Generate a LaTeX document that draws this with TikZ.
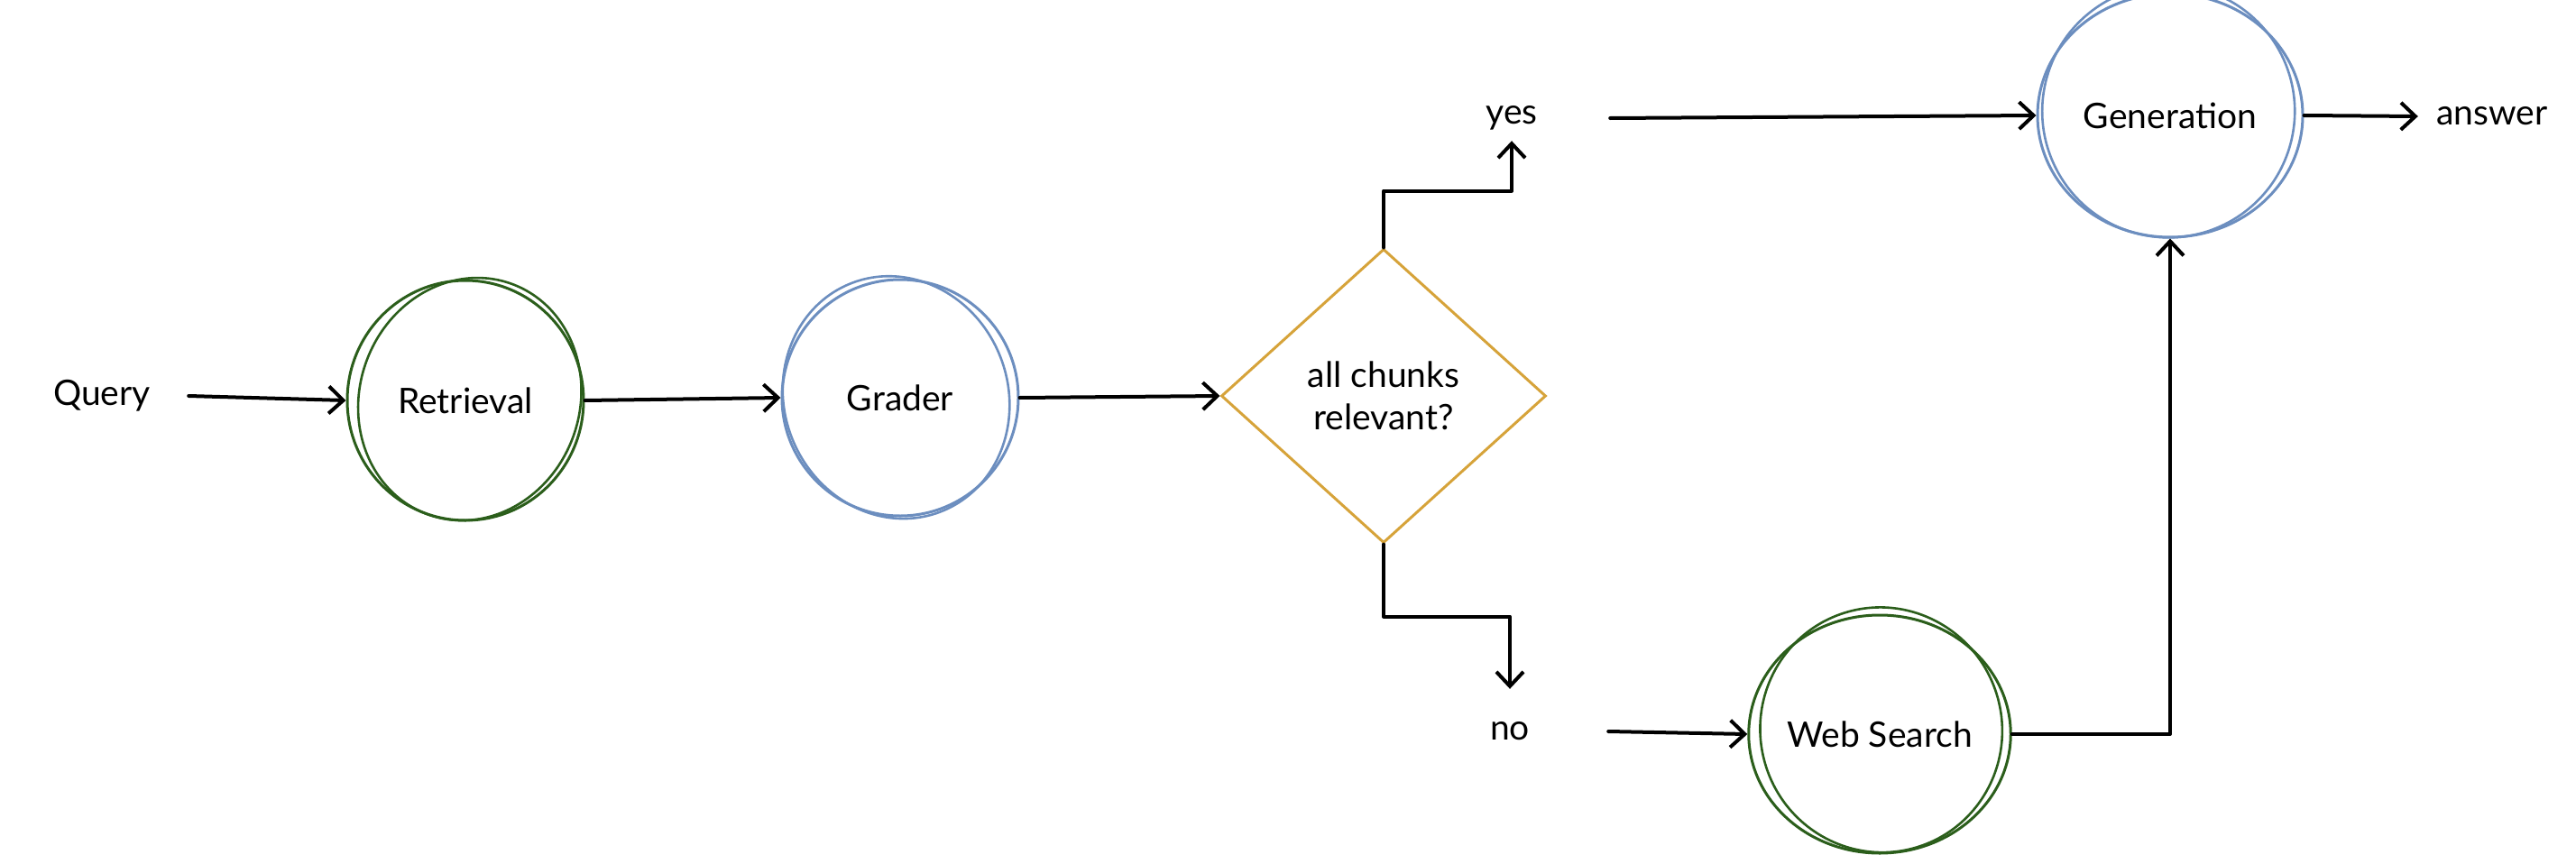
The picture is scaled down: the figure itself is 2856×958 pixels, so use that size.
\documentclass[tikz,border=0pt]{standalone}
\usepackage{fontspec}
\setmainfont{Lato}
\usetikzlibrary{shapes.geometric,arrows.meta}
\definecolor{sgreen}{HTML}{2B5E1B}
\definecolor{sblue}{HTML}{6C8EBF}
\definecolor{sgold}{HTML}{D6A33A}
\begin{document}
\begin{tikzpicture}[x=1pt,y=-1pt,
  font=\fontsize{39}{47}\selectfont,
  lbl/.style={inner sep=0pt, minimum height=50pt},
  proc/.style={ellipse, draw, line width=3pt, inner sep=0pt},
  extra/.style={line width=2.6pt},
  conn/.style={line width=4pt, -{Straight Barb[length=16pt,width=30pt]}, line cap=round, line join=round}]
\useasboundingbox (0,0) rectangle (2856,958);

\node[lbl, minimum width=192pt] (query) at (113,439) {Query};
\node[proc, draw=sgreen, minimum width=262pt, minimum height=266pt] (ret) at (516,444) {Retrieval};
\node[proc, draw=sblue, minimum width=262pt, minimum height=262pt] (grader) at (998,441) {Grader};
\node[diamond, draw=sgold, line width=3pt, minimum width=360pt, minimum height=326pt, inner sep=0pt, aspect=1.1, align=center] (dia) at (1534,439) {all chunks\\relevant?};
\node[lbl, minimum width=218pt] (yes) at (1676,131) {yes};
\node[proc, draw=sblue, minimum width=294pt, minimum height=270pt] (gen) at (2406,128) {Generation};
\node[lbl, minimum width=164pt] (ans) at (2763,129) {answer};
\node[lbl, minimum width=218pt] (no) at (1674,811) {no};
\node[proc, draw=sgreen, minimum width=282pt, minimum height=264pt] (ws) at (2084,814) {Web Search};

% sketchy second strokes
\draw[extra, sgreen, rotate around={-20:(ret.center)}] ([shift={(4,-3)}]ret.center) ellipse [x radius=122, y radius=136];
\draw[extra, sblue, rotate around={22:(grader.center)}] ([shift={(-4,-2)}]grader.center) ellipse [x radius=124, y radius=136];
\draw[extra, sblue, rotate around={-16:(gen.center)}] ([shift={(-3,-4)}]gen.center) ellipse [x radius=140, y radius=140];
\draw[extra, sgreen, rotate around={18:(ws.center)}] ([shift={(3,-4)}]ws.center) ellipse [x radius=134, y radius=136];

% connectors
\draw[conn] (query.east) -- (ret.west);
\draw[conn] (ret.east) -- (grader.west);
\draw[conn] (grader.east) -- (dia.west);
\draw[conn] (dia.north) -- ++(0,-63) -| (yes.south);
\draw[conn] (yes.east) -- (gen.west);
\draw[conn] (gen.east) -- (ans.west);
\draw[conn, shorten >=22pt] (dia.south) -- ++(0,80) -| (no.north);
\draw[conn] (no.east) -- (ws.west);
\draw[conn] (ws.east) -| (gen.south);
\end{tikzpicture}
\end{document}
